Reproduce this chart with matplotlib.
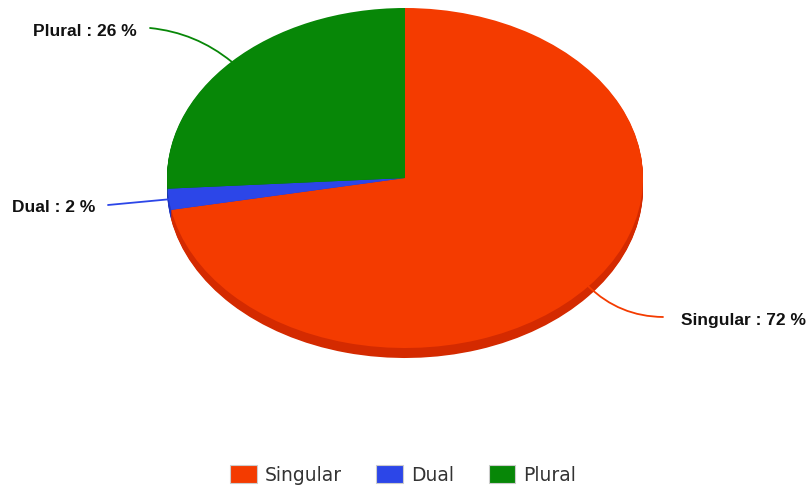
import numpy as np
import matplotlib.pyplot as plt
from matplotlib.patches import Patch

# Verteilung der Numeri
categories = ['Singular', 'Dual', 'Plural']
shares = [72, 2, 26]
colors = ['#f43b00', '#2c46e8', '#078707']
side_colors = ['#d42a00', '#1f35c0', '#056a05']

W, H = 811, 490
fig = plt.figure(figsize=(W / 100, H / 100), dpi=100)

# ellipse of the pie top face (pixels)
cx, cy, rx, ry, depth = 405, 178, 238, 170, 10
d = depth / ry
ax = fig.add_axes([(cx - rx) / W, (H - (cy + ry + depth)) / H, 2 * rx / W, (2 * ry + depth) / H])

# side of the 3d pie: stacked darker layers
for dy in np.linspace(d, 0.005, 12):
    ax.pie(shares, colors=side_colors, startangle=90, counterclock=False,
           center=(0, -dy), wedgeprops=dict(linewidth=0))
wedges, _ = ax.pie(shares, colors=colors, startangle=90, counterclock=False,
                   wedgeprops=dict(linewidth=0))
ax.set_aspect('auto')
ax.set_xlim(-1, 1)
ax.set_ylim(-1 - d, 1)
ax.axis('off')

# data labels with connectors
label_pos = {'Plural': (137, 31, 'right', (150, 28), -0.15),
             'Dual': (95, 207, 'right', (108, 205), 0.0),
             'Singular': (681, 321, 'left', (663, 317), -0.2)}
for w, name, val, col in zip(wedges, categories, shares, colors):
    mid = np.deg2rad((w.theta1 + w.theta2) / 2)
    tx, ty, ha, (sx, sy), rad = label_pos[name]
    ax.annotate('', xy=(np.cos(mid), np.sin(mid)), xycoords='data',
                xytext=(sx, H - sy), textcoords='figure pixels',
                arrowprops=dict(arrowstyle='-', color=col, lw=1.3,
                                shrinkA=0, shrinkB=0,
                                connectionstyle=f'arc3,rad={rad}'))
    fig.text(tx / W, 1 - ty / H, f'{name} : {val} %', ha=ha, va='center',
             fontsize=12.5, fontweight='bold', family='Liberation Sans', color='#111111')

handles = [Patch(facecolor=c, edgecolor='#cccccc', linewidth=0.8) for c in colors]
fig.legend(handles, categories, loc='center', bbox_to_anchor=(403 / W, 1 - 475 / H),
           ncol=3, frameon=False, fontsize=13.5, labelcolor='#333333',
           handlelength=1.43, handleheight=1.06, handletextpad=0.42, columnspacing=1.85)

fig.savefig('out.png', dpi=100, facecolor='white')
